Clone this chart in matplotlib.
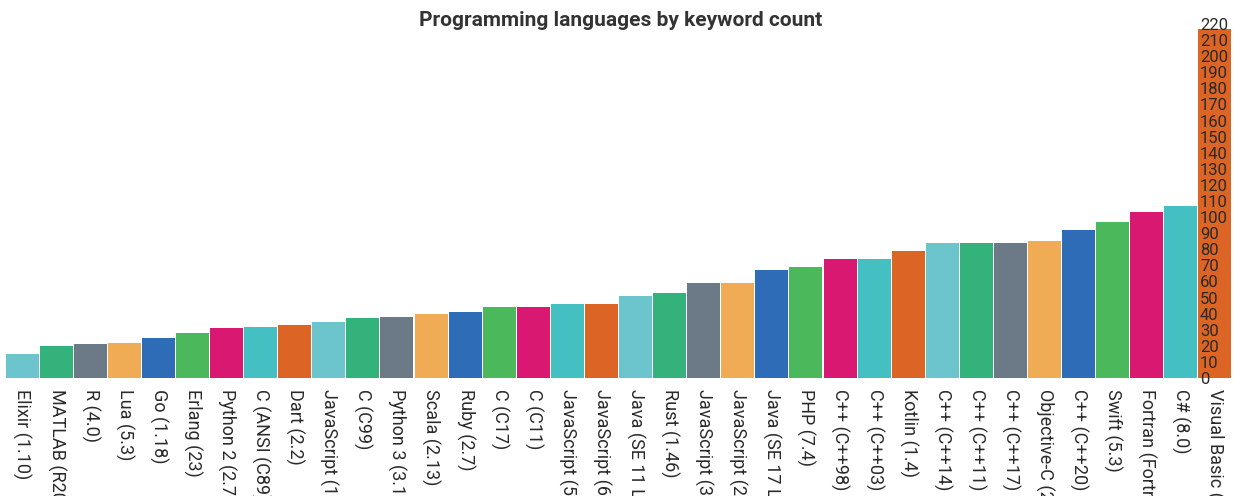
import matplotlib.pyplot as plt

plt.rcParams['font.family'] = ['Roboto', 'DejaVu Sans']

languages = [
    'Elixir (1.10)', 'MATLAB (R2020a)', 'R (4.0)', 'Lua (5.3)', 'Go (1.18)',
    'Erlang (23)', 'Python 2 (2.7)', 'C (ANSI (C89))', 'Dart (2.2)',
    'JavaScript (1st Edition)', 'C (C99)', 'Python 3 (3.10)', 'Scala (2.13)',
    'Ruby (2.7)', 'C (C17)', 'C (C11)', 'JavaScript (5th Edition)',
    'JavaScript (6th Edition)', 'Java (SE 11 LTS)', 'Rust (1.46)',
    'JavaScript (3rd Edition)', 'JavaScript (2nd Edition)', 'Java (SE 17 LTS)',
    'PHP (7.4)', 'C++ (C++98)', 'C++ (C++03)', 'Kotlin (1.4)', 'C++ (C++14)',
    'C++ (C++11)', 'C++ (C++17)', 'Objective-C (2.0)', 'C++ (C++20)',
    'Swift (5.3)', 'Fortran (Fortran 2018)', 'C# (8.0)', 'Visual Basic (16.9)',
]
keywords = [15, 20, 21, 22, 25, 28, 31, 32, 33, 35, 37, 38, 40, 41, 44, 44,
            46, 46, 51, 53, 59, 59, 67, 69, 74, 74, 79, 84, 84, 84, 85, 92,
            97, 103, 107, 217]
y_ticks = list(range(0, 221, 10))

palette = ['#6cc4cc', '#33b27c', '#6b7a86', '#f0ab55', '#2e6cb8',
           '#4cb85c', '#d91872', '#45c0c2', '#dc6425']
colors = [palette[i % len(palette)] for i in range(len(keywords))]

fig = plt.figure(figsize=(12.34, 4.96), dpi=100)
ax = fig.add_axes([5 / 1234, 118 / 496, 1227 / 1234, 354 / 496])

x = range(len(keywords))
ax.bar(x, keywords, width=0.97, color=colors, linewidth=0)

ax.set_xlim(-0.5, len(keywords) - 0.5)
ax.set_ylim(0, 220)
ax.set_xticks(list(x))
ax.set_xticklabels(languages, rotation=-90, ha='center', va='top',
                   fontsize=13, color='#2a2a2a')
ax.set_yticks(y_ticks)
ax.set_yticklabels([str(v) for v in y_ticks], fontsize=12, color='#2a2a2a')

ax.tick_params(axis='x', length=0, pad=8)
ax.tick_params(axis='y', left=False, labelleft=False, right=True,
               labelright=True, length=0, pad=-23)
for s in ax.spines.values():
    s.set_visible(False)

fig.text(621 / 1234, 1 - 20 / 496, 'Programming languages by keyword count',
         ha='center', va='center', fontsize=15, fontweight='bold',
         color='#333333')

fig.savefig('out.png', dpi=100)
